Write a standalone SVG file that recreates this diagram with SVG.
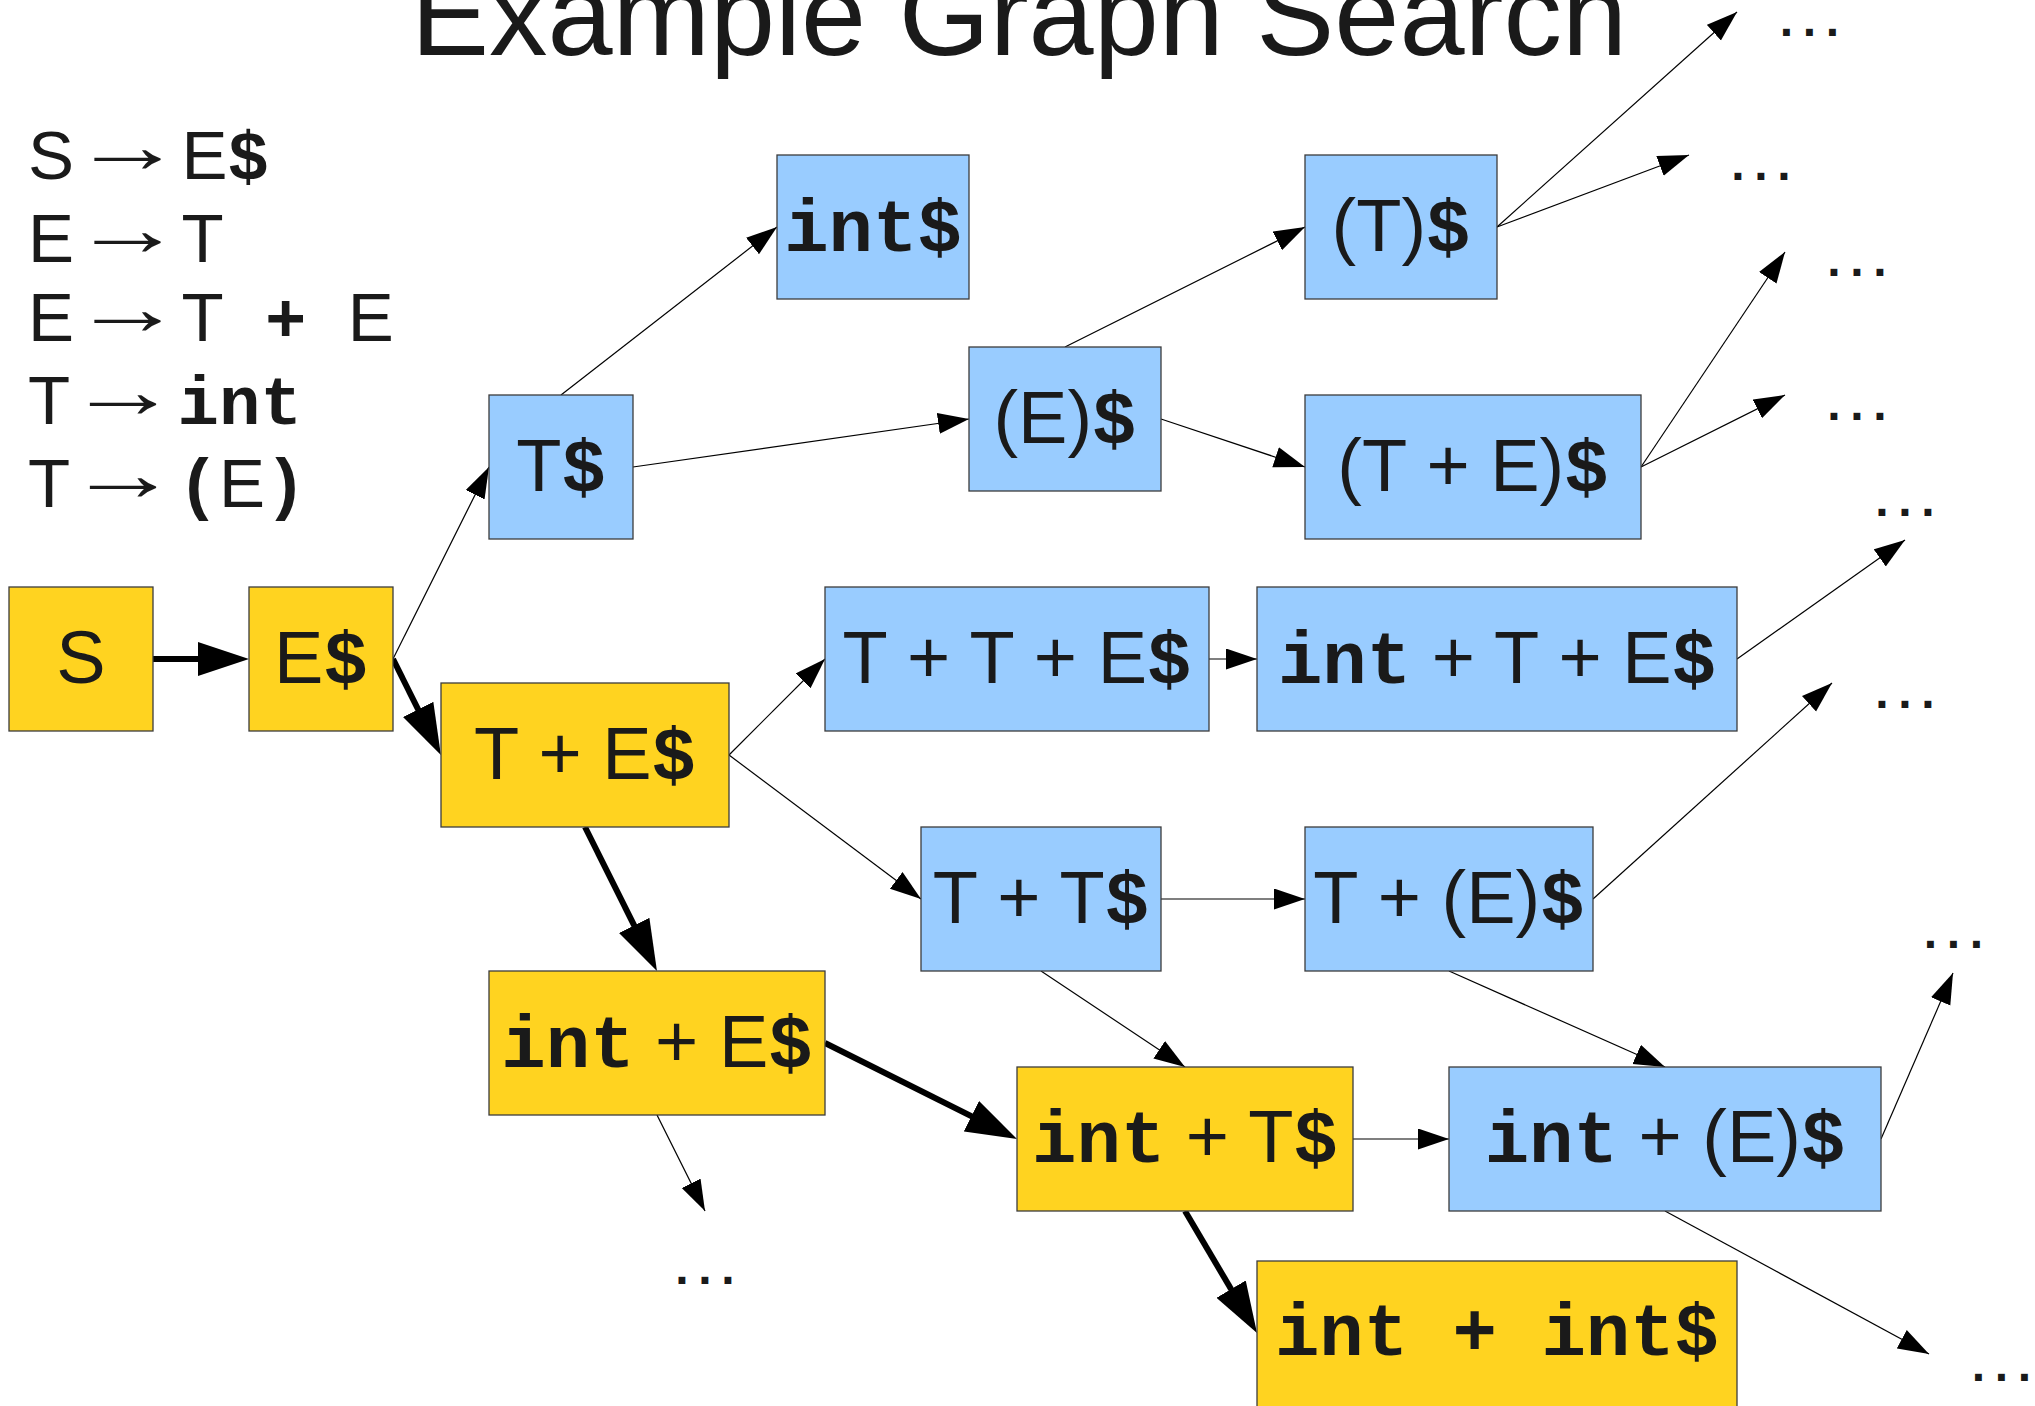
<svg xmlns="http://www.w3.org/2000/svg" width="2035" height="1406" viewBox="0 0 2035 1406">
  <style>
    .bg { fill: #ffffff; }
    .sans { font-family: "Liberation Sans", Arial, sans-serif; }
    .mono { font-family: "Liberation Mono", "Courier New", monospace; font-weight: bold; }
    .title { font-family: "Liberation Sans", Arial, sans-serif; font-size: 117px; fill: #1a1a1a; text-anchor: middle; }
    .rule { font-family: "Liberation Sans", Arial, sans-serif; font-size: 69px; fill: #1a1a1a; }
    .to { font-family: "Liberation Sans", Arial, sans-serif; font-size: 78px; fill: #1a1a1a; }
    .lbl { font-family: "Liberation Sans", Arial, sans-serif; font-size: 74px; fill: #1a1a1a; text-anchor: middle; }
    .dots { font-family: "Liberation Mono", "Courier New", monospace; font-weight: bold; font-size: 48px; letter-spacing: -5.8px; fill: #1a1a1a; text-anchor: middle; }
    .yel { fill: #ffd320; stroke: #3c3c3c; stroke-width: 1.3; }
    .blu { fill: #99ccff; stroke: #3c3c3c; stroke-width: 1.3; }
    .edge { stroke: #000000; stroke-width: 1.2; fill: none; marker-end: url(#ah); }
    .bold { stroke: #000000; stroke-width: 6; fill: none; marker-end: url(#ahb); }
  </style>
  <defs>
    <marker id="ah" markerUnits="userSpaceOnUse" markerWidth="32" markerHeight="22" refX="31" refY="10.5" orient="auto">
      <path d="M0,0 L31,10.5 L0,21 z" fill="#000000"/>
    </marker>
    <marker id="ahb" markerUnits="userSpaceOnUse" markerWidth="52" markerHeight="34" refX="39" refY="17" orient="auto">
      <path d="M0,0 L51,17 L0,34 z" fill="#000000"/>
    </marker>
  </defs>

  <rect class="bg" x="0" y="0" width="2035" height="1406"/>

  <!-- heading -->
  <text class="title" x="1019" y="55">Example Graph Search</text>

  <!-- grammar rules: left side, stretched arrow, right side -->
  <g id="grammar">
    <text class="rule" x="28" y="179">S</text>
    <text class="to" x="71.5" y="172" textLength="112" lengthAdjust="spacingAndGlyphs">→</text>
    <text class="rule" x="181.4" y="179"><tspan class="sans">E</tspan><tspan class="mono">$</tspan></text>

    <text class="rule" x="28" y="262">E</text>
    <text class="to" x="71.5" y="255" textLength="112" lengthAdjust="spacingAndGlyphs">→</text>
    <text class="rule" x="181.4" y="262">T</text>

    <text class="rule" x="28" y="341">E</text>
    <text class="to" x="71.5" y="334" textLength="112" lengthAdjust="spacingAndGlyphs">→</text>
    <text class="rule" x="181.4" y="341"><tspan class="sans">T</tspan><tspan class="mono" xml:space="preserve"> + </tspan><tspan class="sans">E</tspan></text>

    <text class="rule" x="28" y="424">T</text>
    <text class="to" x="67" y="417" textLength="112" lengthAdjust="spacingAndGlyphs">→</text>
    <text class="rule" x="177.6" y="424"><tspan class="mono">int</tspan></text>

    <text class="rule" x="28" y="507">T</text>
    <text class="to" x="67" y="500" textLength="112" lengthAdjust="spacingAndGlyphs">→</text>
    <text class="rule" x="177.6" y="507"><tspan class="mono">(</tspan><tspan class="sans">E</tspan><tspan class="mono">)</tspan></text>
  </g>

  <!-- connectors -->
  <g id="connectors">
    <line class="bold" x1="153" y1="659" x2="237" y2="659"/>
    <line class="bold" x1="393" y1="659" x2="435.5" y2="744.3"/>
    <line class="bold" x1="585" y1="827" x2="651.6" y2="960.3"/>
    <line class="bold" x1="825" y1="1043" x2="1006.3" y2="1133.6"/>
    <line class="bold" x1="1185" y1="1211" x2="1250.9" y2="1322.7"/>

    <line class="edge" x1="393" y1="659" x2="489" y2="467"/>
    <line class="edge" x1="561" y1="395" x2="777" y2="227"/>
    <line class="edge" x1="633" y1="467" x2="969" y2="419"/>
    <line class="edge" x1="1065" y1="347" x2="1305" y2="227"/>
    <line class="edge" x1="1161" y1="419" x2="1305" y2="467"/>
    <line class="edge" x1="1497" y1="227" x2="1737" y2="12"/>
    <line class="edge" x1="1497" y1="227" x2="1689" y2="155"/>
    <line class="edge" x1="1641" y1="467" x2="1785" y2="252"/>
    <line class="edge" x1="1641" y1="467" x2="1785" y2="395"/>
    <line class="edge" x1="729" y1="755" x2="825" y2="659"/>
    <line class="edge" x1="729" y1="755" x2="921" y2="899"/>
    <line class="edge" x1="1209" y1="659" x2="1257" y2="659"/>
    <line class="edge" x1="1737" y1="659" x2="1905" y2="540"/>
    <line class="edge" x1="1161" y1="899" x2="1305" y2="899"/>
    <line class="edge" x1="1041" y1="971" x2="1185" y2="1067"/>
    <line class="edge" x1="1593" y1="899" x2="1832" y2="683"/>
    <line class="edge" x1="1449" y1="971" x2="1665" y2="1067"/>
    <line class="edge" x1="657" y1="1115" x2="705" y2="1211"/>
    <line class="edge" x1="1353" y1="1139" x2="1449" y2="1139"/>
    <line class="edge" x1="1881" y1="1139" x2="1953" y2="973"/>
    <line class="edge" x1="1665" y1="1211" x2="1929" y2="1354"/>
  </g>

  <!-- nodes -->
  <g id="n-S">
    <rect class="yel" x="9" y="587" width="144" height="144"/>
    <text class="lbl" x="81" y="683">S</text>
  </g>
  <g id="n-Es">
    <rect class="yel" x="249" y="587" width="144" height="144"/>
    <text class="lbl" x="321" y="683"><tspan class="sans">E</tspan><tspan class="mono">$</tspan></text>
  </g>
  <g id="n-Ts">
    <rect class="blu" x="489" y="395" width="144" height="144"/>
    <text class="lbl" x="561" y="491"><tspan class="sans">T</tspan><tspan class="mono">$</tspan></text>
  </g>
  <g id="n-ints">
    <rect class="blu" x="777" y="155" width="192" height="144"/>
    <text class="lbl" x="873" y="251"><tspan class="mono">int$</tspan></text>
  </g>
  <g id="n-pEs">
    <rect class="blu" x="969" y="347" width="192" height="144"/>
    <text class="lbl" x="1065" y="443"><tspan class="sans">(E)</tspan><tspan class="mono">$</tspan></text>
  </g>
  <g id="n-pTs">
    <rect class="blu" x="1305" y="155" width="192" height="144"/>
    <text class="lbl" x="1401" y="251"><tspan class="sans">(T)</tspan><tspan class="mono">$</tspan></text>
  </g>
  <g id="n-pTEs">
    <rect class="blu" x="1305" y="395" width="336" height="144"/>
    <text class="lbl" x="1473" y="491"><tspan class="sans">(T + E)</tspan><tspan class="mono">$</tspan></text>
  </g>
  <g id="n-TEs">
    <rect class="yel" x="441" y="683" width="288" height="144"/>
    <text class="lbl" x="585" y="779"><tspan class="sans">T + E</tspan><tspan class="mono">$</tspan></text>
  </g>
  <g id="n-TTEs">
    <rect class="blu" x="825" y="587" width="384" height="144"/>
    <text class="lbl" x="1017" y="683"><tspan class="sans">T + T + E</tspan><tspan class="mono">$</tspan></text>
  </g>
  <g id="n-intTEs">
    <rect class="blu" x="1257" y="587" width="480" height="144"/>
    <text class="lbl" x="1497" y="683"><tspan class="mono">int</tspan><tspan class="sans" xml:space="preserve"> + T + E</tspan><tspan class="mono">$</tspan></text>
  </g>
  <g id="n-TTs">
    <rect class="blu" x="921" y="827" width="240" height="144"/>
    <text class="lbl" x="1041" y="923"><tspan class="sans">T + T</tspan><tspan class="mono">$</tspan></text>
  </g>
  <g id="n-TpEs">
    <rect class="blu" x="1305" y="827" width="288" height="144"/>
    <text class="lbl" x="1449" y="923"><tspan class="sans">T + (E)</tspan><tspan class="mono">$</tspan></text>
  </g>
  <g id="n-intEs">
    <rect class="yel" x="489" y="971" width="336" height="144"/>
    <text class="lbl" x="657" y="1067"><tspan class="mono">int</tspan><tspan class="sans" xml:space="preserve"> + E</tspan><tspan class="mono">$</tspan></text>
  </g>
  <g id="n-intTs">
    <rect class="yel" x="1017" y="1067" width="336" height="144"/>
    <text class="lbl" x="1185" y="1162"><tspan class="mono">int</tspan><tspan class="sans" xml:space="preserve"> + T</tspan><tspan class="mono">$</tspan></text>
  </g>
  <g id="n-intpEs">
    <rect class="blu" x="1449" y="1067" width="432" height="144"/>
    <text class="lbl" x="1665" y="1162"><tspan class="mono">int</tspan><tspan class="sans" xml:space="preserve"> + (E)</tspan><tspan class="mono">$</tspan></text>
  </g>
  <g id="n-intints">
    <rect class="yel" x="1257" y="1261" width="480" height="150"/>
    <text class="lbl" x="1497" y="1355"><tspan class="mono" xml:space="preserve">int + int$</tspan></text>
  </g>

  <!-- unexpanded successors -->
  <g id="more">
    <text class="dots" x="1806.5" y="36">...</text>
    <text class="dots" x="1758" y="180">...</text>
    <text class="dots" x="1854" y="276">...</text>
    <text class="dots" x="1854" y="420">...</text>
    <text class="dots" x="1902" y="516">...</text>
    <text class="dots" x="1902" y="708">...</text>
    <text class="dots" x="1950.5" y="948">...</text>
    <text class="dots" x="1998.5" y="1381">...</text>
    <text class="dots" x="702" y="1284">...</text>
  </g>
</svg>
